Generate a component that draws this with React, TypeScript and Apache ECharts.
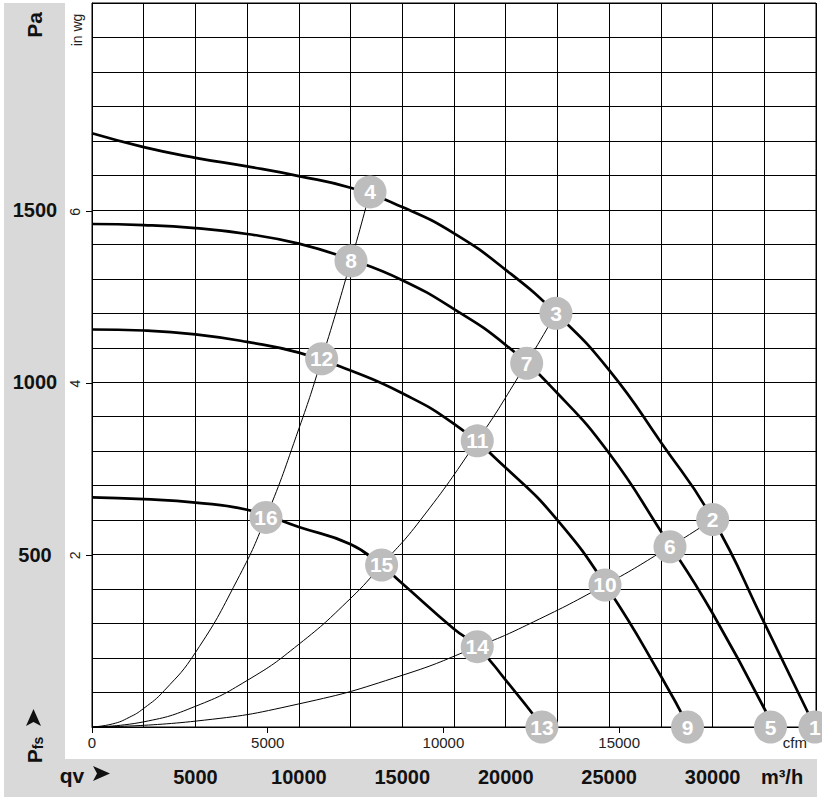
import React, { useEffect, useRef } from "react";
import * as echarts from "echarts";

// ---- data ----
const FLOW_MAX = 35000; // m³/h
const PA_MAX = 2100; // Pa
const PA_PER_INWG = 249.089;
const CFM_PER_M3H = 0.588578;

const flowLabels = [5000, 10000, 15000, 20000, 25000, 30000];
const paLabels = [500, 1000, 1500];
const inwgLabels = [2, 4, 6];
const cfmTicks = [0, 5000, 10000, 15000];
const cfmLabels = [0, 5000, 10000, 15000, 20000];

// fan curves [flow m³/h, Pa]
const fanCurveA = [
  [0, 1722], [2500, 1682], [5000, 1651], [7500, 1626], [10000, 1598], [12500, 1564],
  [15000, 1508], [17500, 1432], [20000, 1326], [22500, 1196], [25000, 1035],
  [27500, 826], [30000, 604], [32500, 302], [34950, 0],
];
const fanCurveB = [
  [0, 1459], [2500, 1456], [5000, 1447], [7500, 1430], [10000, 1402], [12500, 1356],
  [15000, 1296], [17500, 1212], [20000, 1108], [22500, 968], [25000, 794],
  [27500, 568], [30000, 330], [32950, 0],
];
const fanCurveC = [
  [0, 1153], [2500, 1150], [5000, 1139], [7500, 1117], [10000, 1086], [12500, 1034],
  [15000, 968], [17500, 879], [20000, 752], [22500, 600], [25000, 396],
  [27500, 148], [28850, 0],
];
const fanCurveD = [
  [0, 666], [2500, 661], [5000, 651], [7500, 630], [10000, 580], [12500, 530],
  [14000, 468], [15000, 416], [17500, 284], [18625, 233],
  [20000, 136], [21800, 0],
];

// system curves [flow m³/h, Pa]
const systemCurve1 = [
  [0, 0], [1000, 9], [1800, 28], [2500, 54], [3500, 106], [5000, 216], [7000, 424],
  [8411, 608], [10000, 865], [11100, 1066], [12520, 1352], [13440, 1552],
];
const systemCurve2 = [
  [0, 0], [2500, 15], [5000, 60], [7500, 135], [10000, 240], [12500, 373],
  [14000, 470], [15850, 598], [18625, 830], [20500, 1005], [22430, 1200],
];
const systemCurve3 = [
  [0, 0], [5000, 17], [10000, 67], [15000, 150], [18625, 233], [21000, 295],
  [24800, 412], [27940, 523], [30005, 602],
];

// numbered operating points
const markerLabels = ["1", "2", "3", "4", "5", "6", "7", "8", "9", "10", "11", "12", "13", "14", "15", "16"];
const markerFlow = [34950, 30005, 22430, 13440, 32800, 27940, 21014, 12520, 28790, 24800, 18625, 11100, 21750, 18625, 14000, 8411];
const markerPressure = [0, 602, 1200, 1552, 0, 523, 1055, 1352, 0, 412, 830, 1068, 0, 233, 470, 608];

const GRID_LEFT = 92;
const GRID_TOP = 3;
const GRID_W = 724;
const GRID_H = 724;
const BAND = "#d9d9d9";
const FONT = "Arial, 'Liberation Sans', Helvetica, sans-serif";

export default function App() {
  const ref = useRef<HTMLDivElement>(null);

  useEffect(() => {
    if (!ref.current) return;
    const chart = echarts.init(ref.current, undefined, { renderer: "svg" });

    const fanLine = (data: number[][]) => ({
      type: "line",
      data,
      xAxisIndex: 0,
      yAxisIndex: 0,
      symbol: "none",
      smooth: 0.5,
      lineStyle: { color: "#000", width: 2.7 },
      z: 3,
    });
    const sysLine = (data: number[][]) => ({
      type: "line",
      data,
      xAxisIndex: 0,
      yAxisIndex: 0,
      symbol: "none",
      smooth: 0.5,
      lineStyle: { color: "#000", width: 1 },
      z: 2,
    });

    const markers = markerLabels.map((name, i) => ({
      name,
      value: [markerFlow[i], markerPressure[i]],
    }));

    const arrowQv = [[93, 766], [110, 773.5], [93, 781], [97, 773.5]];
    const arrowPfs = [[26, 726], [33.5, 709], [41, 726], [33.5, 722]];
    const plain = (v: number) => String(v);

    chart.setOption({
      animation: false,
      backgroundColor: "#fff",
      textStyle: { fontFamily: FONT },
      grid: {
        left: GRID_LEFT,
        top: GRID_TOP,
        width: GRID_W,
        height: GRID_H,
        show: true,
        borderColor: "#000",
        borderWidth: 1,
        containLabel: false,
      },
      xAxis: [
        {
          type: "value",
          min: 0,
          max: FLOW_MAX,
          interval: 2500,
          position: "bottom",
          axisLine: { show: true, onZero: false, lineStyle: { color: "#000", width: 1 } },
          axisTick: { show: false },
          axisLabel: { show: false },
          splitLine: { show: true, lineStyle: { color: "#000", width: 1 } },
        },
        {
          type: "value",
          min: 0,
          max: FLOW_MAX * CFM_PER_M3H,
          position: "bottom",
          axisLine: { show: false },
          axisTick: {
            show: true,
            customValues: cfmTicks,
            length: 6,
            lineStyle: { color: "#000", width: 1 },
          },
          axisLabel: {
            show: true,
            customValues: cfmLabels,
            margin: 8,
            fontSize: 15,
            color: "#222",
            fontFamily: FONT,
            formatter: (v: number) => (v === 20000 ? "cfm" : String(v)),
          },
          splitLine: { show: false },
        },
        {
          type: "value",
          min: 0,
          max: FLOW_MAX,
          position: "bottom",
          axisLine: { show: false },
          axisTick: { show: false },
          axisLabel: {
            show: true,
            customValues: flowLabels,
            margin: 40,
            fontSize: 20,
            fontWeight: "bold",
            color: "#111",
            fontFamily: FONT,
            formatter: plain,
          },
          splitLine: { show: false },
        },
      ],
      yAxis: [
        {
          type: "value",
          min: 0,
          max: PA_MAX,
          interval: 100,
          position: "left",
          axisLine: { show: true, onZero: false, lineStyle: { color: "#000", width: 1 } },
          axisTick: { show: false },
          axisLabel: {
            show: true,
            customValues: paLabels,
            margin: 57,
            align: "center",
            fontSize: 20,
            fontWeight: "bold",
            color: "#111",
            fontFamily: FONT,
            formatter: plain,
          },
          splitLine: { show: true, lineStyle: { color: "#000", width: 1 } },
        },
        {
          type: "value",
          min: 0,
          max: PA_MAX / PA_PER_INWG,
          position: "left",
          axisLine: { show: false },
          axisTick: {
            show: true,
            customValues: inwgLabels,
            length: 6,
            lineStyle: { color: "#000", width: 1 },
          },
          axisLabel: {
            show: true,
            customValues: inwgLabels,
            rotate: 90,
            margin: 10,
            fontSize: 14,
            color: "#222",
            fontFamily: FONT,
          },
          splitLine: { show: false },
        },
      ],
      series: [
        fanLine(fanCurveA),
        fanLine(fanCurveB),
        fanLine(fanCurveC),
        fanLine(fanCurveD),
        sysLine(systemCurve1),
        sysLine(systemCurve2),
        sysLine(systemCurve3),
        {
          type: "scatter",
          xAxisIndex: 0,
          yAxisIndex: 0,
          data: markers,
          symbol: "circle",
          symbolSize: 33,
          clip: false,
          z: 5,
          itemStyle: { color: "#bdbdbd", opacity: 1 },
          label: {
            show: true,
            position: "inside",
            formatter: "{b}",
            color: "#fff",
            fontSize: 21,
            fontWeight: "bold",
            fontFamily: FONT,
          },
          emphasis: { disabled: true },
        },
      ],
      graphic: [
        { type: "rect", z: -10, silent: true, shape: { x: 4, y: 3, width: 61, height: 794 }, style: { fill: BAND } },
        { type: "rect", z: -10, silent: true, shape: { x: 4, y: 759, width: 813, height: 38 }, style: { fill: BAND } },
        {
          type: "text",
          x: 34,
          y: 25,
          rotation: Math.PI / 2,
          style: { text: "Pa", fill: "#111", font: `bold 21px ${FONT}`, align: "center", verticalAlign: "middle" },
        },
        {
          type: "text",
          x: 77,
          y: 30,
          rotation: Math.PI / 2,
          style: { text: "in wg", fill: "#222", font: `14px ${FONT}`, align: "center", verticalAlign: "middle" },
        },
        {
          type: "text",
          x: 34,
          y: 750,
          rotation: Math.PI / 2,
          style: {
            text: "{p|P}{s|fs}",
            align: "center",
            verticalAlign: "middle",
            rich: {
              p: { fontSize: 21, fontWeight: "bold", fill: "#111", fontFamily: FONT },
              s: { fontSize: 14, fontWeight: "bold", fill: "#111", fontFamily: FONT, padding: [8, 0, 0, 0] },
            },
          },
        },
        { type: "polygon", shape: { points: arrowPfs }, style: { fill: "#111" } },
        {
          type: "text",
          x: 72,
          y: 775,
          style: { text: "qv", fill: "#111", font: `bold 21px ${FONT}`, align: "center", verticalAlign: "middle" },
        },
        { type: "polygon", shape: { points: arrowQv }, style: { fill: "#111" } },
        {
          type: "text",
          x: 782,
          y: 777,
          style: { text: "m³/h", fill: "#111", font: `bold 20px ${FONT}`, align: "center", verticalAlign: "middle" },
        },
      ],
    });

    return () => chart.dispose();
  }, []);

  return (
    <div
      ref={ref}
      style={{ position: "absolute", left: 0, top: 0, width: 822, height: 801, background: "#fff" }}
    />
  );
}
